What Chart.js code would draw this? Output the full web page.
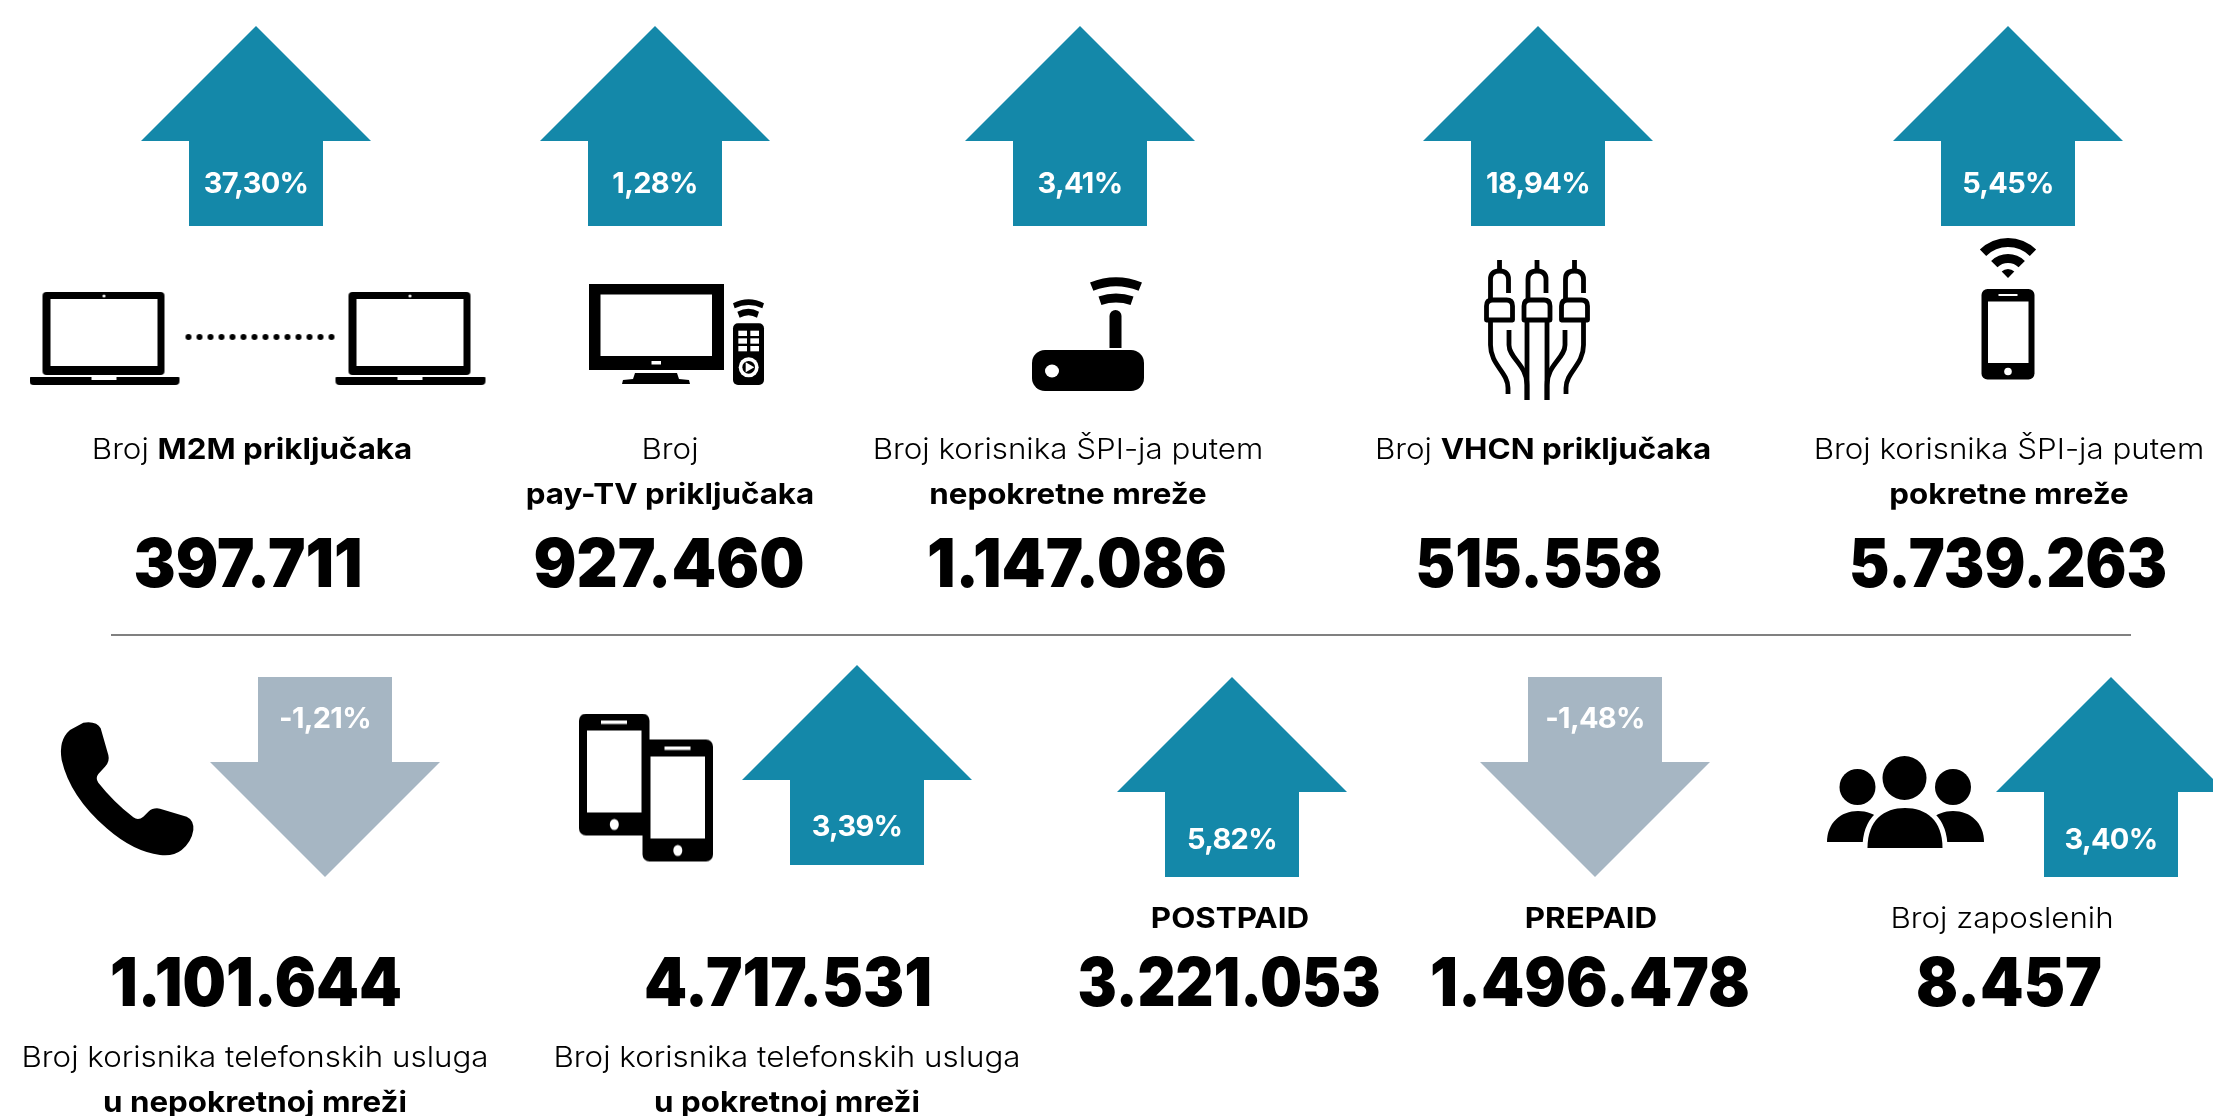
<!DOCTYPE html>
<html>
<head>
<meta charset="utf-8">
<title>Pokazatelji</title>
<script src="https://cdn.jsdelivr.net/npm/chart.js@4"></script>
<style>
  html, body { margin: 0; padding: 0; background: #fff; overflow: hidden; }
  canvas { display: block; }
</style>
</head>
<body>
<canvas id="chart" width="2213" height="1116"></canvas>
<script>
// values
const categories = ['M2M', 'pay-TV', 'SPI nepokretna', 'VHCN', 'SPI pokretna',
  'telefon nepokretna', 'telefon pokretna', 'postpaid', 'prepaid', 'zaposleni'];
const changes = [37.30, 1.28, 3.41, 18.94, 5.45, -1.21, 3.39, 5.82, -1.48, 3.40];
const counts = [397711, 927460, 1147086, 515558, 5739263, 1101644, 4717531, 3221053, 1496478, 8457];
const captions = [
  ['Broj **M2M priključaka**'],
  ['Broj', '**pay-TV priključaka**'],
  ['Broj korisnika ŠPI-ja putem', '**nepokretne mreže**'],
  ['Broj **VHCN priključaka**'],
  ['Broj korisnika ŠPI-ja putem', '**pokretne mreže**'],
  ['Broj korisnika telefonskih usluga', '**u nepokretnoj mreži**'],
  ['Broj korisnika telefonskih usluga', '**u pokretnoj mreži**'],
  ['**POSTPAID**'],
  ['**PREPAID**'],
  ['Broj zaposlenih']
];

// layout, in page pixels (x and y scales below run 0..2213 and 0..1116)
const arrowX = [256, 655, 1080, 1538, 2008, 325, 857, 1232, 1595, 2111];
const arrowY = [126, 126, 126, 126, 126, 777, 765, 777, 777, 777];
const percentY = [193, 193, 193, 193, 193, 728, 836, 849, 728, 849];
const countX = [248, 669, 1077, 1539, 2008, 256, 788, 1229, 1590, 2009];
const countY = [587, 587, 587, 587, 587, 1006, 1006, 1006, 1006, 1006];
const countWidth = [229, 271, 300, 247, 318, 292, 288, 303, 320, 186];
const captionX = [252, 670, 1068, 1543, 2009, 255, 787, 1230, 1591, 2002];
const captionY = [459, 459, 459, 459, 459, 1067, 1067, 928, 928, 928];
const captionGap = 45;
const ruleX = [111, 2131];
const ruleY = [635, 635];

const TEAL = '#1488a9';
const GREY = '#a6b6c3';
const FONT = 'Inter, "Noto Sans", sans-serif';

function sprite(w, h, paint) {
  const c = document.createElement('canvas');
  c.width = w;
  c.height = h;
  const g = c.getContext('2d');
  g.fillStyle = '#000';
  g.strokeStyle = '#000';
  paint(g);
  return c;
}

function arrowSprite(up) {
  return sprite(230, 200, g => {
    if (!up) { g.translate(0, 200); g.scale(1, -1); }
    g.fillStyle = up ? TEAL : GREY;
    g.beginPath();
    g.moveTo(115, 0);
    g.lineTo(230, 115);
    g.lineTo(182, 115);
    g.lineTo(182, 200);
    g.lineTo(48, 200);
    g.lineTo(48, 115);
    g.lineTo(0, 115);
    g.closePath();
    g.fill();
  });
}

function rr(g, x, y, w, h, r) {
  g.beginPath();
  g.roundRect(x, y, w, h, r);
  g.fill();
}

function white(g, fn) {
  g.save();
  g.fillStyle = '#fff';
  g.strokeStyle = '#fff';
  fn();
  g.restore();
}

function paintLaptop(g, x) {
  rr(g, x + 13, 0, 122, 83, 4);
  white(g, () => {
    g.fillRect(x + 21, 7, 107, 67);
    g.beginPath();
    g.arc(x + 74.5, 4, 1.5, 0, 7);
    g.fill();
  });
  rr(g, x, 85, 150, 8, [1, 1, 4, 4]);
  white(g, () => g.fillRect(x + 62, 85, 25, 3));
}

function wedge(g, cx, cy, r0, r1, half) {
  g.beginPath();
  g.arc(cx, cy, r1, -Math.PI / 2 - half, -Math.PI / 2 + half);
  g.arc(cx, cy, r0, -Math.PI / 2 + half, -Math.PI / 2 - half, true);
  g.closePath();
  g.fill();
}

const icons = [
  // two laptops with a dotted link
  sprite(457, 94, g => {
    paintLaptop(g, 0);
    paintLaptop(g, 306);
    for (let i = 0; i < 14; i++) {
      g.beginPath();
      g.arc(159 + i * 11, 45, 3, 0, 7);
      g.fill();
    }
  }),
  // tv and remote
  sprite(178, 102, g => {
    g.fillRect(0, 0, 135, 86);
    white(g, () => {
      g.fillRect(11.5, 10.5, 111.5, 61.5);
      g.fillRect(62.5, 77, 9.5, 3.5);
    });
    g.beginPath();
    g.moveTo(46, 89); g.lineTo(88, 89); g.lineTo(90, 95); g.lineTo(100, 96);
    g.lineTo(101, 100); g.lineTo(33, 100); g.lineTo(34, 96); g.lineTo(44, 95);
    g.closePath();
    g.fill();
    g.save();
    g.translate(141, 0);
    g.scale(1 / 3, 1 / 3);
    // remote, drawn at the 3x size it was measured at
    g.translate(0, -12);
    rr(g, 9, 130, 93, 185, 15);
    white(g, () => {
      [152, 175, 198].forEach(y => {
        g.fillRect(25, y, 26, 16);
        g.fillRect(61, y, 26, 16);
      });
      g.beginPath();
      g.arc(56, 262, 30, 0, 7);
      g.fill();
    });
    g.beginPath();
    g.arc(56, 262, 19, 0, 7);
    g.fill();
    white(g, () => {
      g.beginPath();
      g.moveTo(47, 247); g.lineTo(73, 262); g.lineTo(47, 277);
      g.closePath();
      g.fill();
    });
    g.beginPath();
    g.moveTo(9, 70); g.quadraticCurveTo(56, 45, 102, 70); g.lineTo(97, 85);
    g.quadraticCurveTo(56, 65, 14, 85);
    g.closePath();
    g.fill();
    g.beginPath();
    g.moveTo(22, 95); g.quadraticCurveTo(56, 78, 87, 95); g.lineTo(81, 113);
    g.quadraticCurveTo(56, 98, 29, 113);
    g.closePath();
    g.fill();
    g.restore();
  }),
  // router
  sprite(114, 116, g => {
    rr(g, 1, 74, 112, 41, 13);
    white(g, () => {
      g.beginPath();
      g.ellipse(21, 95, 7, 6.5, 0, 0, 7);
      g.fill();
    });
    rr(g, 78.5, 34, 12, 38, [6, 6, 0, 0]);
    wedge(g, 85, 71.5, 61, 70, 0.38);
    wedge(g, 85, 71.5, 45, 54, 0.33);
  }),
  // three cables
  sprite(110, 146, g => {
    g.lineWidth = 4.8;
    g.lineJoin = 'round';
    [17.5, 55, 92.5].forEach(cx => {
      g.fillRect(cx - 2.4, 0, 4.8, 12);
      g.beginPath();
      g.moveTo(cx + 9, 33);
      g.lineTo(cx + 9, 19);
      g.quadraticCurveTo(cx + 9, 11, cx, 11);
      g.quadraticCurveTo(cx - 9, 11, cx - 9, 19);
      g.lineTo(cx - 9, 40);
      g.stroke();
      g.beginPath();
      g.moveTo(cx - 13, 60);
      g.lineTo(cx - 13, 46);
      g.quadraticCurveTo(cx - 13, 40, cx - 7, 40);
      g.lineTo(cx + 7, 40);
      g.quadraticCurveTo(cx + 13, 40, cx + 13, 46);
      g.lineTo(cx + 13, 60);
      g.closePath();
      g.stroke();
    });
    [0, 1].forEach(side => {
      g.save();
      if (side) { g.translate(110, 0); g.scale(-1, 1); }
      g.beginPath();
      g.moveTo(8.5, 62); g.lineTo(8.5, 85);
      g.bezierCurveTo(8.5, 105, 26, 112, 26, 128);
      g.lineTo(26, 134);
      g.stroke();
      g.beginPath();
      g.moveTo(27, 70); g.lineTo(27, 85);
      g.bezierCurveTo(27, 98, 45, 105, 45, 125);
      g.lineTo(45, 140);
      g.stroke();
      g.beginPath();
      g.moveTo(45, 62); g.lineTo(45, 140);
      g.stroke();
      g.restore();
    });
  }),
  // phone with wifi
  sprite(62, 142, g => {
    wedge(g, 31, 40, 31, 40, 0.78);
    wedge(g, 31, 40, 15, 24, 0.78);
    wedge(g, 31, 40, 0, 9, 0.78);
    rr(g, 4.5, 51, 53, 90.5, 6);
    white(g, () => {
      g.fillRect(11, 63.5, 40.5, 61.5);
      g.fillRect(21.5, 56, 19, 2);
      g.beginPath();
      g.arc(31, 133.5, 3.8, 0, 7);
      g.fill();
    });
  }),
  // handset
  sprite(160, 160, g => {
    g.scale(1 / 3, 1 / 3);
    g.beginPath();
    g.moveTo(100, 38);
    g.quadraticCurveTo(140, 32, 152, 55);
    g.lineTo(175, 135);
    g.quadraticCurveTo(180, 155, 165, 170);
    g.lineTo(145, 192);
    g.quadraticCurveTo(135, 205, 145, 218);
    g.quadraticCurveTo(190, 275, 250, 322);
    g.quadraticCurveTo(265, 333, 280, 320);
    g.lineTo(295, 305);
    g.quadraticCurveTo(310, 292, 330, 296);
    g.lineTo(410, 320);
    g.quadraticCurveTo(432, 330, 430, 360);
    g.quadraticCurveTo(425, 395, 395, 420);
    g.quadraticCurveTo(370, 440, 330, 435);
    g.quadraticCurveTo(250, 425, 170, 355);
    g.quadraticCurveTo(60, 260, 35, 150);
    g.quadraticCurveTo(25, 90, 60, 60);
    g.closePath();
    g.fill();
  }),
  // two phones
  sprite(134, 149, g => {
    const phone = (x, y) => {
      rr(g, x, y, 70.5, 122, 7);
      white(g, () => {
        g.fillRect(x + 8, y + 17, 54.5, 82);
        g.fillRect(x + 22, y + 7, 26, 3.5);
        g.beginPath();
        g.ellipse(x + 35.3, y + 111, 4.5, 5.5, 0, 0, 7);
        g.fill();
      });
    };
    phone(0, 0);
    phone(63.5, 26);
  }),
  // people
  sprite(158, 92, g => {
    const bust = (x0, x1, y0, y1) => {
      const m = (x0 + x1) / 2;
      const path = new Path2D();
      path.moveTo(x0, y1);
      path.bezierCurveTo(x0, y0 + 12, m - (x1 - x0) * 0.28, y0, m, y0);
      path.bezierCurveTo(m + (x1 - x0) * 0.28, y0, x1, y0 + 12, x1, y1);
      path.closePath();
      return path;
    };
    const head = (x, y, r) => {
      g.beginPath();
      g.arc(x, y, r, 0, 7);
      g.fill();
    };
    head(77.5, 22, 22);
    head(30.5, 31, 18);
    head(126, 31, 18);
    g.fill(bust(0, 62, 55, 86));
    g.fill(bust(95, 157, 55, 86));
    const mid = bust(40.5, 115.5, 52, 92);
    white(g, () => {
      g.lineWidth = 10;
      g.stroke(mid);
    });
    g.fill(mid);
    g.clearRect(0, 86.5, 34, 6);
    g.clearRect(122, 86.5, 36, 6);
  })
];
const iconX = [258, 678, 1088, 1537, 2008, 130, 646, 1906];
const iconY = [339, 335, 334, 333, 309, 790, 788, 802];

const arrowPoints = arrowX.map((x, i) => ({ x: x, y: arrowY[i] }));
const iconPoints = iconX.map((x, i) => ({ x: x, y: iconY[i] }));
const rulePoints = ruleX.map((x, i) => ({ x: x, y: ruleY[i] }));
const upSprite = arrowSprite(true);
const downSprite = arrowSprite(false);

function fmtPercent(v) {
  return v.toFixed(2).replace('.', ',') + '%';
}

function fmtCount(v) {
  return String(v).replace(/\B(?=(\d{3})+$)/g, '.');
}

// draws a line made of plain and **bold** pieces, centred on x
function drawRuns(ctx, line, x, y, size, stretch, spacing) {
  const runs = line.split('**').map((t, i) => ({
    text: t,
    font: (i % 2 ? '700 ' : '300 ') + size + 'px ' + FONT
  })).filter(r => r.text);
  ctx.save();
  ctx.letterSpacing = (spacing || 0) + 'px';
  let total = 0;
  runs.forEach(r => {
    ctx.font = r.font;
    r.w = ctx.measureText(r.text).width;
    total += r.w;
  });
  ctx.translate(x, y);
  ctx.scale(stretch, 1);
  let cx = -total / 2;
  ctx.textAlign = 'left';
  ctx.textBaseline = 'alphabetic';
  runs.forEach(r => {
    ctx.font = r.font;
    ctx.fillText(r.text, cx, 0);
    cx += r.w;
  });
  ctx.restore();
}

// big number, squeezed to the width it has in the picture
function drawCount(ctx, text, x, y, width) {
  ctx.save();
  ctx.font = '900 67px ' + FONT;
  ctx.textAlign = 'center';
  ctx.textBaseline = 'alphabetic';
  ctx.translate(x, y);
  ctx.scale(width / ctx.measureText(text).width, 1);
  ctx.fillText(text, 0, 0);
  ctx.restore();
}

const textPlugin = {
  id: 'tableText',
  afterDatasetsDraw(chart) {
    const { ctx, scales } = chart;
    const sx = scales.x;
    const sy = scales.y;
    categories.forEach((name, i) => {
      ctx.fillStyle = '#fff';
      drawRuns(ctx, '**' + fmtPercent(changes[i]) + '**',
        sx.getPixelForValue(arrowX[i]), sy.getPixelForValue(percentY[i]), 29, 1, -0.7);
      ctx.fillStyle = '#000';
      drawCount(ctx, fmtCount(counts[i]), sx.getPixelForValue(countX[i]),
        sy.getPixelForValue(countY[i]), countWidth[i]);
      captions[i].forEach((line, n) => {
        drawRuns(ctx, line, sx.getPixelForValue(captionX[i]),
          sy.getPixelForValue(captionY[i] + n * captionGap), 29, 1.08);
      });
    });
  }
};

new Chart(document.getElementById('chart'), {
  type: 'scatter',
  data: {
    datasets: [
      {
        label: 'promjena',
        data: arrowPoints,
        pointRadius: 1,
        pointStyle: changes.map(v => (v < 0 ? downSprite : upSprite))
      },
      {
        label: 'ikone',
        data: iconPoints,
        pointRadius: 1,
        pointStyle: icons
      },
      {
        label: 'crta',
        type: 'line',
        data: rulePoints,
        borderColor: '#808080',
        borderWidth: 2,
        pointRadius: 0
      }
    ]
  },
  options: {
    responsive: false,
    animation: false,
    layout: { padding: 0, autoPadding: false },
    events: [],
    plugins: { legend: { display: false }, tooltip: { enabled: false } },
    scales: {
      x: { type: 'linear', min: 0, max: 2213, display: false },
      y: { type: 'linear', min: 0, max: 1116, reverse: true, display: false }
    }
  },
  plugins: [textPlugin]
});
</script>
</body>
</html>
